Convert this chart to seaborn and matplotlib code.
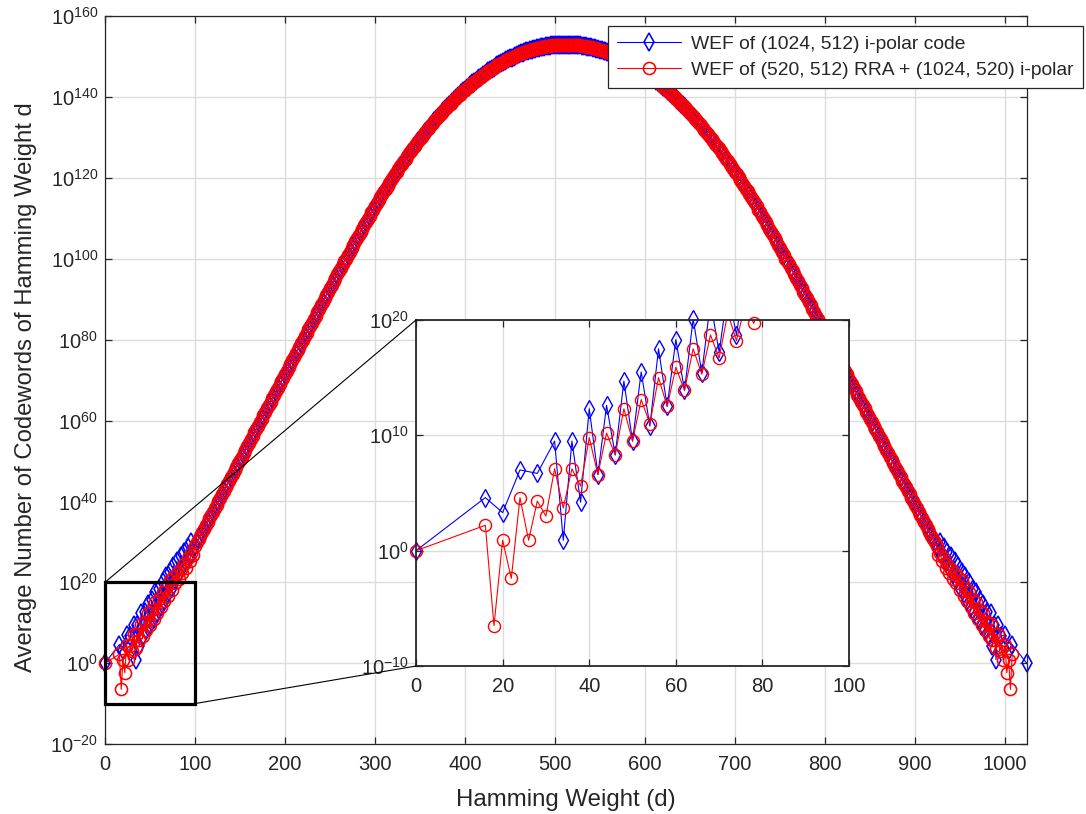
import numpy as np
import pandas as pd
import seaborn as sns
import matplotlib
matplotlib.use("Agg")
import matplotlib.pyplot as plt
from matplotlib.patches import Rectangle, ConnectionPatch
from matplotlib.ticker import FixedLocator, LogFormatterSciNotation, NullLocator, MultipleLocator

# ---- data: log10 of the average number of codewords ----
# low-weight tails (zig-zag part)
d_blue_low = [0, 16, 20, 24, 28, 32, 34, 36, 38, 40, 42, 44, 46, 48, 50, 52, 54, 56, 58, 60,
              62, 64, 66, 68, 70, 72, 74, 76, 78, 80, 82, 84, 86, 88, 90, 92, 94, 96, 98]
lw_blue_low = [0.0, 4.6, 3.3, 7.0, 6.7, 9.5, 0.9, 9.5, 4.2, 12.3, 6.6, 12.6, 8.3, 14.7, 9.5,
               15.5, 10.8, 17.5, 12.5, 18.3, 13.9, 20.1, 15.4, 21.6, 17.2, 22.6, 18.7, 24.0,
               20.6, 25.2, 22.0, 26.4, 23.6, 27.6, 25.0, 28.8, 26.6, 30.0, 28.2]

d_red_low = [0, 16, 18, 20, 22, 24, 26, 28, 30, 32, 34, 36, 38, 40, 42, 44, 46, 48, 50, 52,
             54, 56, 58, 60, 62, 64, 66, 68, 70, 72, 74, 76, 78, 80, 82, 84, 86, 88, 90, 92,
             94, 96, 98]
lw_red_low = [0.0, 2.2, -6.5, 0.9, -2.4, 4.6, 0.9, 4.3, 3.0, 7.1, 3.7, 7.1, 5.6, 9.8, 6.6,
              10.2, 8.3, 12.3, 9.5, 13.1, 11.0, 15.0, 12.5, 15.9, 13.9, 17.5, 15.3, 18.7,
              16.7, 20.6, 18.2, 21.3, 19.7, 22.3, 20.9, 23.4, 22.2, 24.6, 23.6, 25.9, 25.2,
              27.3, 26.8]

# mid weights 100..924 (every even weight): both spectra overlap into one band
d_mid = list(range(100, 925, 2))
lw_mid_left = [  # d = 100 .. 512
    29.0, 29.85, 30.7, 31.55, 32.4, 33.25, 34.1, 34.95, 35.8, 36.65,
    37.5, 38.35, 39.2, 40.05, 40.9, 41.75, 42.6, 43.45, 44.3, 45.15,
    46.0, 46.85, 47.7, 48.55, 49.4, 50.25, 51.1, 51.95, 52.8, 53.65,
    54.5, 55.35, 56.2, 57.05, 57.9, 58.75, 59.6, 60.45, 61.3, 62.15,
    63.0, 63.85, 64.7, 65.55, 66.4, 67.25, 68.1, 68.95, 69.8, 70.65,
    71.5, 72.35, 73.2, 74.05, 74.9, 75.75, 76.6, 77.45, 78.3, 79.15,
    80.0, 80.85, 81.7, 82.55, 83.4, 84.25, 85.1, 85.95, 86.8, 87.65,
    88.5, 89.35, 90.2, 91.05, 91.9, 92.75, 93.6, 94.45, 95.3, 96.15,
    97.0, 97.85, 98.7, 99.55,
    100.0, 100.9, 101.7, 102.6, 103.4, 104.3, 105.1, 105.9, 106.7, 107.5,
    108.3, 109.1, 109.9, 110.7, 111.5, 112.2, 113.0, 113.8, 114.5, 115.2,
    116.0, 116.7, 117.4, 118.1, 118.8, 119.5, 120.2, 120.9, 121.5, 122.2,
    122.9, 123.5, 124.2, 124.8, 125.4, 126.1, 126.7, 127.3, 127.9, 128.5,
    129.1, 129.6, 130.2, 130.8, 131.3, 131.9, 132.4, 133.0, 133.5, 134.0,
    134.5, 135.1, 135.6, 136.1, 136.5, 137.0, 137.5, 138.0, 138.4, 138.9,
    139.3, 139.8, 140.2, 140.6, 141.0, 141.4, 141.8, 142.2, 142.6, 143.0,
    143.4, 143.7, 144.1, 144.5, 144.8, 145.1, 145.5, 145.8, 146.1, 146.4,
    146.7, 147.0, 147.3, 147.6, 147.9, 148.1, 148.4, 148.6, 148.9, 149.1,
    149.4, 149.6, 149.8, 150.0, 150.2, 150.4, 150.6, 150.8, 151.0, 151.1,
    151.3, 151.4, 151.6, 151.7, 151.9, 152.0, 152.1, 152.2, 152.3, 152.4,
    152.5, 152.6, 152.6, 152.7, 152.8, 152.8, 152.9, 152.9, 152.9, 153.0,
    153.0, 153.0, 153.0]
lw_mid_right = [  # d = 514 .. 924
    153.0, 153.0, 153.0, 152.9, 152.9, 152.9, 152.8, 152.8, 152.7, 152.6,
    152.6, 152.5, 152.4, 152.3, 152.2, 152.1, 152.0, 151.9, 151.7, 151.6,
    151.4, 151.3, 151.1, 151.0, 150.8, 150.6, 150.4, 150.2, 150.0, 149.8,
    149.6, 149.4, 149.1, 148.9, 148.6, 148.4, 148.1, 147.9, 147.6, 147.3,
    147.0, 146.7, 146.4, 146.1, 145.8, 145.5, 145.1, 144.8, 144.5, 144.1,
    143.7, 143.4, 143.0, 142.6, 142.2, 141.8, 141.4, 141.0, 140.6, 140.2,
    139.8, 139.3, 138.9, 138.4, 138.0, 137.5, 137.0, 136.5, 136.1, 135.6,
    135.1, 134.5, 134.0, 133.5, 133.0, 132.4, 131.9, 131.3, 130.8, 130.2,
    129.6, 129.1, 128.5, 127.9, 127.3, 126.7, 126.1, 125.4, 124.8, 124.2,
    123.5, 122.9, 122.2, 121.5, 120.9, 120.2, 119.5, 118.8, 118.1, 117.4,
    116.7, 116.0, 115.2, 114.5, 113.8, 113.0, 112.2, 111.5, 110.7, 109.9,
    109.1, 108.3, 107.5, 106.7, 105.9, 105.1, 104.3, 103.4, 102.6, 101.7,
    100.9, 100.0,
    99.55, 98.7, 97.85, 97.0, 96.15, 95.3, 94.45, 93.6, 92.75, 91.9,
    91.05, 90.2, 89.35, 88.5, 87.65, 86.8, 85.95, 85.1, 84.25, 83.4,
    82.55, 81.7, 80.85, 80.0, 79.15, 78.3, 77.45, 76.6, 75.75, 74.9,
    74.05, 73.2, 72.35, 71.5, 70.65, 69.8, 68.95, 68.1, 67.25, 66.4,
    65.55, 64.7, 63.85, 63.0, 62.15, 61.3, 60.45, 59.6, 58.75, 57.9,
    57.05, 56.2, 55.35, 54.5, 53.65, 52.8, 51.95, 51.1, 50.25, 49.4,
    48.55, 47.7, 46.85, 46.0, 45.15, 44.3, 43.45, 42.6, 41.75, 40.9,
    40.05, 39.2, 38.35, 37.5, 36.65, 35.8, 34.95, 34.1, 33.25, 32.4,
    31.55, 30.7, 29.85, 29.0]

# high-weight tails
d_blue_high = [926, 928, 930, 932, 934, 936, 938, 940, 942, 944, 946, 948, 950, 952, 954,
               956, 958, 960, 962, 964, 966, 968, 970, 972, 974, 976, 978, 980, 982, 984,
               986, 988, 990, 992, 996, 1000, 1004, 1008, 1024]
lw_blue_high = [28.2, 30.0, 26.6, 28.8, 25.0, 27.6, 23.6, 26.4, 22.0, 25.2, 20.6, 24.0, 18.7,
                22.6, 17.2, 21.6, 15.4, 20.1, 13.9, 18.3, 12.5, 17.5, 10.8, 15.5, 9.5, 14.7,
                8.3, 12.6, 6.6, 12.3, 4.2, 9.5, 0.9, 9.5, 6.7, 7.0, 3.3, 4.6, 0.0]

d_red_high = [926, 928, 930, 932, 934, 936, 938, 940, 942, 944, 946, 948, 950, 952, 954,
              956, 958, 960, 962, 964, 966, 968, 970, 972, 974, 976, 978, 980, 982, 984,
              986, 988, 990, 992, 994, 996, 998, 1000, 1002, 1004, 1006, 1008]
lw_red_high = [26.8, 27.3, 25.2, 25.9, 23.6, 24.6, 22.2, 23.4, 20.9, 22.3, 19.7, 21.3, 18.2,
               20.6, 16.7, 18.7, 15.3, 17.5, 13.9, 15.9, 12.5, 15.0, 11.0, 13.1, 9.5, 12.3,
               8.3, 10.2, 6.6, 9.8, 5.6, 7.1, 3.7, 7.1, 3.0, 4.3, 0.9, 4.6, -2.4, 0.9, -6.5,
               2.2]

label_blue = "WEF of (1024, 512) i-polar code"
label_red = "WEF of (520, 512) RRA + (1024, 520) i-polar"

BLUE = "#0000ff"
RED = "#ff0000"
AXC = "#262626"

lw_mid = lw_mid_left + lw_mid_right
blue = pd.DataFrame({"d": d_blue_low + d_mid + d_blue_high,
                     "logw": lw_blue_low + lw_mid + lw_blue_high})
red = pd.DataFrame({"d": d_red_low + d_mid + d_red_high,
                    "logw": lw_red_low + lw_mid + lw_red_high})
for df in (blue, red):
    df["w"] = 10.0 ** df["logw"]

sns.set_theme(style="ticks")
plt.rcParams["font.family"] = ["Liberation Sans", "DejaVu Sans"]
plt.rcParams["mathtext.default"] = "regular"

fig = plt.figure(figsize=(10.86, 8.14), dpi=100)
ax = fig.add_axes([0.0967, 0.0860, 0.8486, 0.894])
ax.set_yscale("log")

styles = [(blue, BLUE, "d", 8.9, label_blue), (red, RED, "o", 8.7, label_red)]
for df, col, mk, ms, lab in styles:
    sns.lineplot(data=df, x="d", y="w", ax=ax, color=col, marker=mk, markersize=ms,
                 markerfacecolor="none", markeredgecolor=col, markeredgewidth=1.15,
                 linewidth=0.8, estimator=None, sort=False, label=lab, clip_on=False)


def style_axes(a, fs):
    a.set_facecolor("white")
    for s in a.spines.values():
        s.set_color(AXC)
        s.set_linewidth(0.9)
    a.tick_params(which="major", direction="in", top=True, right=True, length=5,
                  width=0.9, colors=AXC, labelsize=fs)
    a.tick_params(axis="x", pad=8)
    a.tick_params(axis="y", pad=5)
    a.yaxis.set_minor_locator(NullLocator())
    a.xaxis.set_minor_locator(NullLocator())
    a.grid(True, which="major", color="#dcdcdc", linewidth=1.0)
    a.set_axisbelow(True)


ax.set_xlim(0, 1024)
ax.set_ylim(1e-20, 1e160)
ax.xaxis.set_major_locator(MultipleLocator(100))
ax.yaxis.set_major_locator(FixedLocator([10.0 ** k for k in range(-20, 161, 20)]))
ax.yaxis.set_major_formatter(LogFormatterSciNotation())
style_axes(ax, 14.5)
ax.set_xlabel("Hamming Weight (d)", fontsize=17.3, color=AXC, labelpad=11)
ax.set_ylabel("Average Number of Codewords of Hamming Weight d", fontsize=17.2,
              color=AXC, labelpad=0)
ax.yaxis.set_label_coords(-0.074, 0.49)

leg = ax.legend(loc="upper right", bbox_to_anchor=(1083 / 1086, 1 - 26 / 814),
                bbox_transform=fig.transFigure, frameon=True, fancybox=False,
                edgecolor=AXC, framealpha=1, fontsize=13.9, handlelength=3.3,
                handletextpad=0.5, borderpad=0.5, labelspacing=0.42, borderaxespad=0)
leg.get_frame().set_linewidth(0.9)

# zoom box on the main axes
ax.add_patch(Rectangle((0, 1e-10), 100, 1e20 - 1e-10, fill=False, edgecolor="black",
                       linewidth=2.3, zorder=6, clip_on=False))

# inset
axin = fig.add_axes([0.3831, 0.1818, 0.3987, 0.4251])
axin.set_yscale("log")
for df, col, mk, ms, lab in styles:
    sns.lineplot(data=df, x="d", y="w", ax=axin, color=col, linewidth=0.8,
                 estimator=None, sort=False, legend=False)
    sub = df[(df["d"] <= 100) & (df["logw"] >= -10) & (df["logw"] <= 20.3)]
    sns.lineplot(data=sub, x="d", y="w", ax=axin, color=col, marker=mk, markersize=ms,
                 markerfacecolor="none", markeredgecolor=col, markeredgewidth=1.0,
                 linestyle="", estimator=None, sort=False, legend=False, clip_on=False)
axin.set_xlim(0, 100)
axin.set_ylim(1e-10, 1e20)
axin.xaxis.set_major_locator(MultipleLocator(20))
axin.yaxis.set_major_locator(FixedLocator([1e-10, 1e0, 1e10, 1e20]))
axin.yaxis.set_major_formatter(LogFormatterSciNotation())
style_axes(axin, 14.5)
for s in axin.spines.values():
    s.set_linewidth(1.3)
axin.set_xlabel("")
axin.set_ylabel("")

for xyA, xyB in [((0, 1e20), (0, 1)), ((100, 1e-10), (0, 0))]:
    con = ConnectionPatch(xyA=xyA, coordsA=ax.transData, xyB=xyB, coordsB=axin.transAxes,
                          color="black", linewidth=0.8)
    fig.add_artist(con)

fig.savefig("out.png", dpi=100)
